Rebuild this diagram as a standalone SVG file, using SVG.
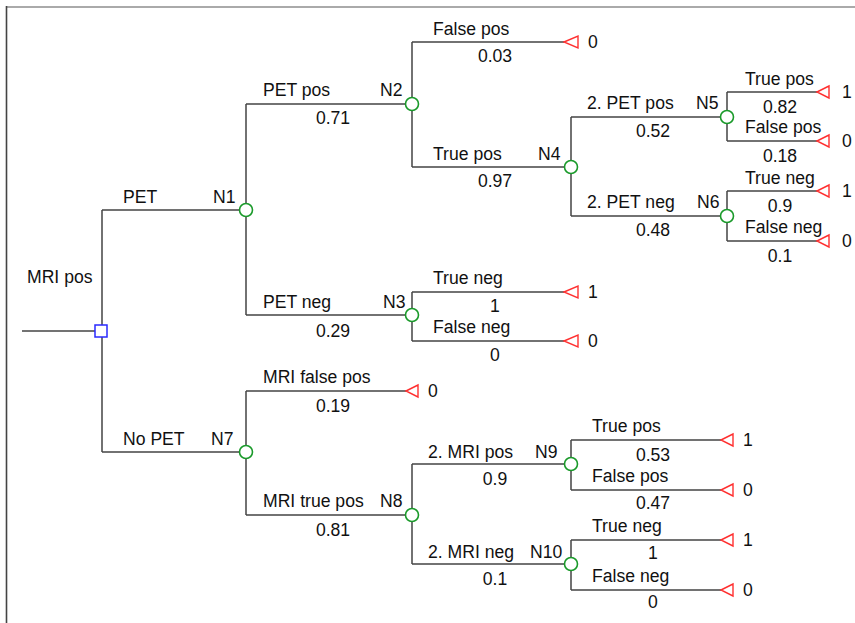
<svg xmlns="http://www.w3.org/2000/svg" width="855" height="623" viewBox="0 0 855 623">
<style>
text{font-family:"Liberation Sans",Arial,sans-serif;font-size:17.6px;fill:#111}
.c{text-anchor:middle}
.ln{stroke:#444;stroke-width:1.5;fill:none}
.ch{stroke:#1a9a2a;stroke-width:1.6;fill:#fff}
.tm{stroke:#ff3030;stroke-width:1.4;fill:#fff}
.dc{stroke:#2a2aff;stroke-width:1.5;fill:#fff}
</style>
<rect width="855" height="623" fill="#fff"/>
<line x1="6" y1="7" x2="855" y2="7" stroke="#aaa" stroke-width="2"/>
<line x1="6.5" y1="6" x2="6.5" y2="623" stroke="#444" stroke-width="1.6"/>
<g id="connectors" class="ln">
<path d="M22,331H95"/>
<path d="M102,210V452M102,210H246M102,452H246"/>
<path d="M246,104V315M246,104H412M246,315H412"/>
<path d="M412,42V167M412,42H564M412,167H571"/>
<path d="M571,117V216M571,117H727M571,216H727"/>
<path d="M727,92V141M727,92H817M727,141H817"/>
<path d="M727,191V241M727,191H817M727,241H817"/>
<path d="M412,292V341M412,292H564M412,341H564"/>
<path d="M246,391V515M246,391H406M246,515H412"/>
<path d="M412,464V564M412,464H571M412,564H571"/>
<path d="M571,440V490M571,440H721M571,490H721"/>
<path d="M571,540V590M571,540H721M571,590H721"/>
</g>
<g id="root"><rect class="dc" x="95" y="325" width="12" height="12"/><text x="27" y="283">MRI pos</text></g>
<g id="lbl-pet"><text x="123" y="203">PET</text></g>
<g id="lbl-nopet"><text x="123" y="445">No PET</text></g>
<g id="N1"><circle class="ch" cx="246" cy="210" r="6.5"/><text x="213" y="203">N1</text></g>
<g id="N2"><circle class="ch" cx="412" cy="104" r="6.5"/><text x="380" y="96">N2</text><text x="263" y="96">PET pos</text><text class="c" x="333" y="124">0.71</text></g>
<g id="N3"><circle class="ch" cx="412" cy="315" r="6.5"/><text x="383" y="308">N3</text><text x="263" y="308">PET neg</text><text class="c" x="333" y="337">0.29</text></g>
<g id="T1"><polygon class="tm" points="564,42 578,36 578,48"/><text x="433" y="35">False pos</text><text class="c" x="495" y="62">0.03</text><text x="588" y="48">0</text></g>
<g id="N4"><circle class="ch" cx="571" cy="167" r="6.5"/><text x="538" y="160">N4</text><text x="433" y="160">True pos</text><text class="c" x="495" y="187">0.97</text></g>
<g id="N5"><circle class="ch" cx="727" cy="117" r="6.5"/><text x="696" y="109">N5</text><text x="587" y="109">2. PET pos</text><text class="c" x="653" y="137">0.52</text></g>
<g id="N6"><circle class="ch" cx="727" cy="216" r="6.5"/><text x="697" y="208">N6</text><text x="587" y="208">2. PET neg</text><text class="c" x="653" y="236">0.48</text></g>
<g id="T2"><polygon class="tm" points="817,92 829,86 829,98"/><text x="745" y="85">True pos</text><text class="c" x="780" y="113">0.82</text><text x="842" y="98">1</text></g>
<g id="T3"><polygon class="tm" points="817,141 829,135 829,147"/><text x="745" y="133">False pos</text><text class="c" x="780" y="162">0.18</text><text x="842" y="147">0</text></g>
<g id="T4"><polygon class="tm" points="817,191 829,185 829,197"/><text x="745" y="184">True neg</text><text class="c" x="780" y="212">0.9</text><text x="842" y="197">1</text></g>
<g id="T5"><polygon class="tm" points="817,241 829,235 829,247"/><text x="745" y="233">False neg</text><text class="c" x="780" y="262">0.1</text><text x="842" y="247">0</text></g>
<g id="T6"><polygon class="tm" points="564,292 578,286 578,298"/><text x="433" y="284">True neg</text><text class="c" x="495" y="312">1</text><text x="588" y="298">1</text></g>
<g id="T7"><polygon class="tm" points="564,341 578,335 578,347"/><text x="433" y="333">False neg</text><text class="c" x="495" y="361">0</text><text x="588" y="347">0</text></g>
<g id="N7"><circle class="ch" cx="246" cy="452" r="6.5"/><text x="211" y="445">N7</text></g>
<g id="T8"><polygon class="tm" points="406,391 418,385 418,397"/><text x="263" y="383">MRI false pos</text><text class="c" x="333" y="412">0.19</text><text x="428" y="397">0</text></g>
<g id="N8"><circle class="ch" cx="412" cy="515" r="6.5"/><text x="380" y="507">N8</text><text x="263" y="507">MRI true pos</text><text class="c" x="333" y="536">0.81</text></g>
<g id="N9"><circle class="ch" cx="571" cy="464" r="6.5"/><text x="535" y="458">N9</text><text x="428" y="458">2. MRI pos</text><text class="c" x="495" y="485">0.9</text></g>
<g id="N10"><circle class="ch" cx="571" cy="564" r="6.5"/><text x="530" y="558">N10</text><text x="428" y="558">2. MRI neg</text><text class="c" x="495" y="585">0.1</text></g>
<g id="T9"><polygon class="tm" points="721,440 733,434 733,446"/><text x="592" y="432">True pos</text><text class="c" x="653" y="461">0.53</text><text x="743" y="446">1</text></g>
<g id="T10"><polygon class="tm" points="721,490 733,484 733,496"/><text x="592" y="482">False pos</text><text class="c" x="653" y="509">0.47</text><text x="743" y="496">0</text></g>
<g id="T11"><polygon class="tm" points="721,540 733,534 733,546"/><text x="592" y="532">True neg</text><text class="c" x="653" y="559">1</text><text x="743" y="546">1</text></g>
<g id="T12"><polygon class="tm" points="721,590 733,584 733,596"/><text x="592" y="582">False neg</text><text class="c" x="653" y="608">0</text><text x="743" y="596">0</text></g>
</svg>
